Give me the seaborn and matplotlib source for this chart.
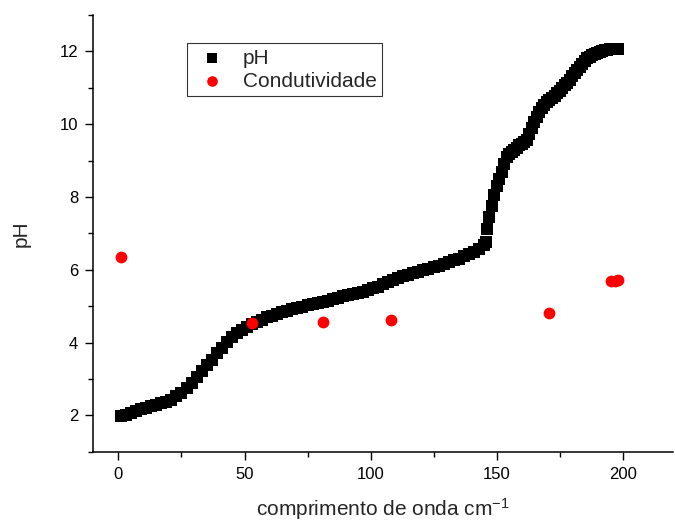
import matplotlib
matplotlib.use("Agg")
import matplotlib.pyplot as plt
import seaborn as sns
import pandas as pd
from matplotlib.ticker import MultipleLocator

# ---- data ----
ph_x = [1, 3, 5, 7, 9, 11, 13, 15, 17, 19, 21, 23, 25, 27, 29, 31, 33, 35, 37, 39,
        41, 43, 45, 47, 49, 51, 53, 55, 57, 59, 61, 63, 65, 67, 69, 71, 73, 75, 77, 79,
        81, 83, 85, 87, 89, 91, 93, 95, 97, 99, 101, 103, 105, 107, 109, 111, 113, 115,
        117, 119, 121, 123, 125, 127, 129, 131, 133, 135, 137, 139, 141, 143, 145, 146,
        146.4, 147, 148, 149, 150, 151, 152, 153, 154, 155, 156, 157, 158, 159, 160,
        161, 162, 163, 164, 165, 166, 167, 168, 169, 170, 171, 172, 173, 174, 175, 176,
        177, 178, 179, 180, 181, 182, 183, 184, 185, 186, 187, 188, 189, 190, 191, 192,
        193, 194, 195, 196, 197, 198]
ph_y = [1.98, 2.02, 2.07, 2.12, 2.17, 2.21, 2.25, 2.29, 2.33, 2.37, 2.43, 2.52, 2.62,
        2.74, 2.88, 3.05, 3.22, 3.38, 3.53, 3.70, 3.86, 4.01, 4.14, 4.25, 4.34, 4.43,
        4.50, 4.57, 4.63, 4.69, 4.74, 4.79, 4.83, 4.87, 4.91, 4.95, 4.99, 5.03, 5.06,
        5.09, 5.12, 5.15, 5.19, 5.23, 5.27, 5.30, 5.33, 5.37, 5.40, 5.44, 5.49, 5.54,
        5.60, 5.66, 5.72, 5.78, 5.83, 5.87, 5.91, 5.95, 5.99, 6.03, 6.07, 6.11, 6.16,
        6.21, 6.26, 6.31, 6.37, 6.43, 6.50, 6.58, 6.68, 6.76,
        7.13, 7.45, 7.75, 8.05, 8.30, 8.50, 8.68, 8.90, 9.10, 9.18, 9.24, 9.30, 9.36,
        9.42, 9.47, 9.52, 9.58, 9.72, 9.90, 10.05, 10.20, 10.33, 10.45, 10.54, 10.61,
        10.67, 10.72, 10.78, 10.85, 10.92, 11.00, 11.07, 11.14, 11.22, 11.32, 11.41,
        11.50, 11.58, 11.66, 11.74, 11.81, 11.86, 11.90, 11.94, 11.97, 11.99, 12.01,
        12.03, 12.05, 12.06, 12.07, 12.08, 12.08]

cond_x = [1, 53, 81, 108, 171, 195.5, 197, 198]
cond_y = [6.36, 4.55, 4.56, 4.63, 4.81, 5.68, 5.70, 5.71]

x_ticks = [0, 50, 100, 150, 200]
y_ticks = [2, 4, 6, 8, 10, 12]

labels = ["pH", "Condutividade"]
xlabel = "comprimento de onda cm$^{-1}$"
ylabel = "pH"

# ---- plotting ----
sns.set_style("ticks")
plt.rcParams["font.family"] = ["Liberation Sans", "DejaVu Sans"]
plt.rcParams["mathtext.fontset"] = "custom"
plt.rcParams["mathtext.rm"] = "Liberation Sans"
plt.rcParams["mathtext.it"] = "Liberation Sans:italic"

fig, ax = plt.subplots(figsize=(6.75, 5.21), dpi=100)
fig.subplots_adjust(left=0.1382, right=0.997, top=0.971, bottom=0.133)

df_ph = pd.DataFrame({"x": ph_x, "y": ph_y})
df_c = pd.DataFrame({"x": cond_x, "y": cond_y})

sns.scatterplot(data=df_ph, x="x", y="y", marker="s", s=68, color="black",
                linewidth=0, ax=ax, label=labels[0], zorder=2)
sns.scatterplot(data=df_c, x="x", y="y", marker="o", s=72, color="#ff0000",
                linewidth=0, ax=ax, label=labels[1], zorder=3)

ax.set_xlim(-10, 220)
ax.set_ylim(1, 13)
ax.set_xticks(x_ticks)
ax.set_yticks(y_ticks)
ax.xaxis.set_minor_locator(MultipleLocator(25))
ax.yaxis.set_minor_locator(MultipleLocator(1))

for s in ["top", "right"]:
    ax.spines[s].set_visible(False)
for s in ["left", "bottom"]:
    ax.spines[s].set_linewidth(1.1)
    ax.spines[s].set_color("black")

ax.tick_params(which="major", direction="out", length=6, width=1, colors="black",
               labelsize=12, pad=5)
ax.tick_params(which="minor", direction="out", length=3.5, width=1, colors="black")

ax.set_xlabel(xlabel, fontsize=15, labelpad=10.5)
ax.set_ylabel(ylabel, fontsize=15, labelpad=21)

leg = ax.legend(loc="upper left", bbox_to_anchor=(0.161, 0.935), borderaxespad=0,
                frameon=True, fancybox=False, edgecolor="black", fontsize=15,
                handletextpad=0.55, labelspacing=0.2, borderpad=0.25,
                handlelength=1.9, markerscale=0.9)
leg.get_frame().set_linewidth(0.8)

fig.savefig("out.png", dpi=100, facecolor="white")
